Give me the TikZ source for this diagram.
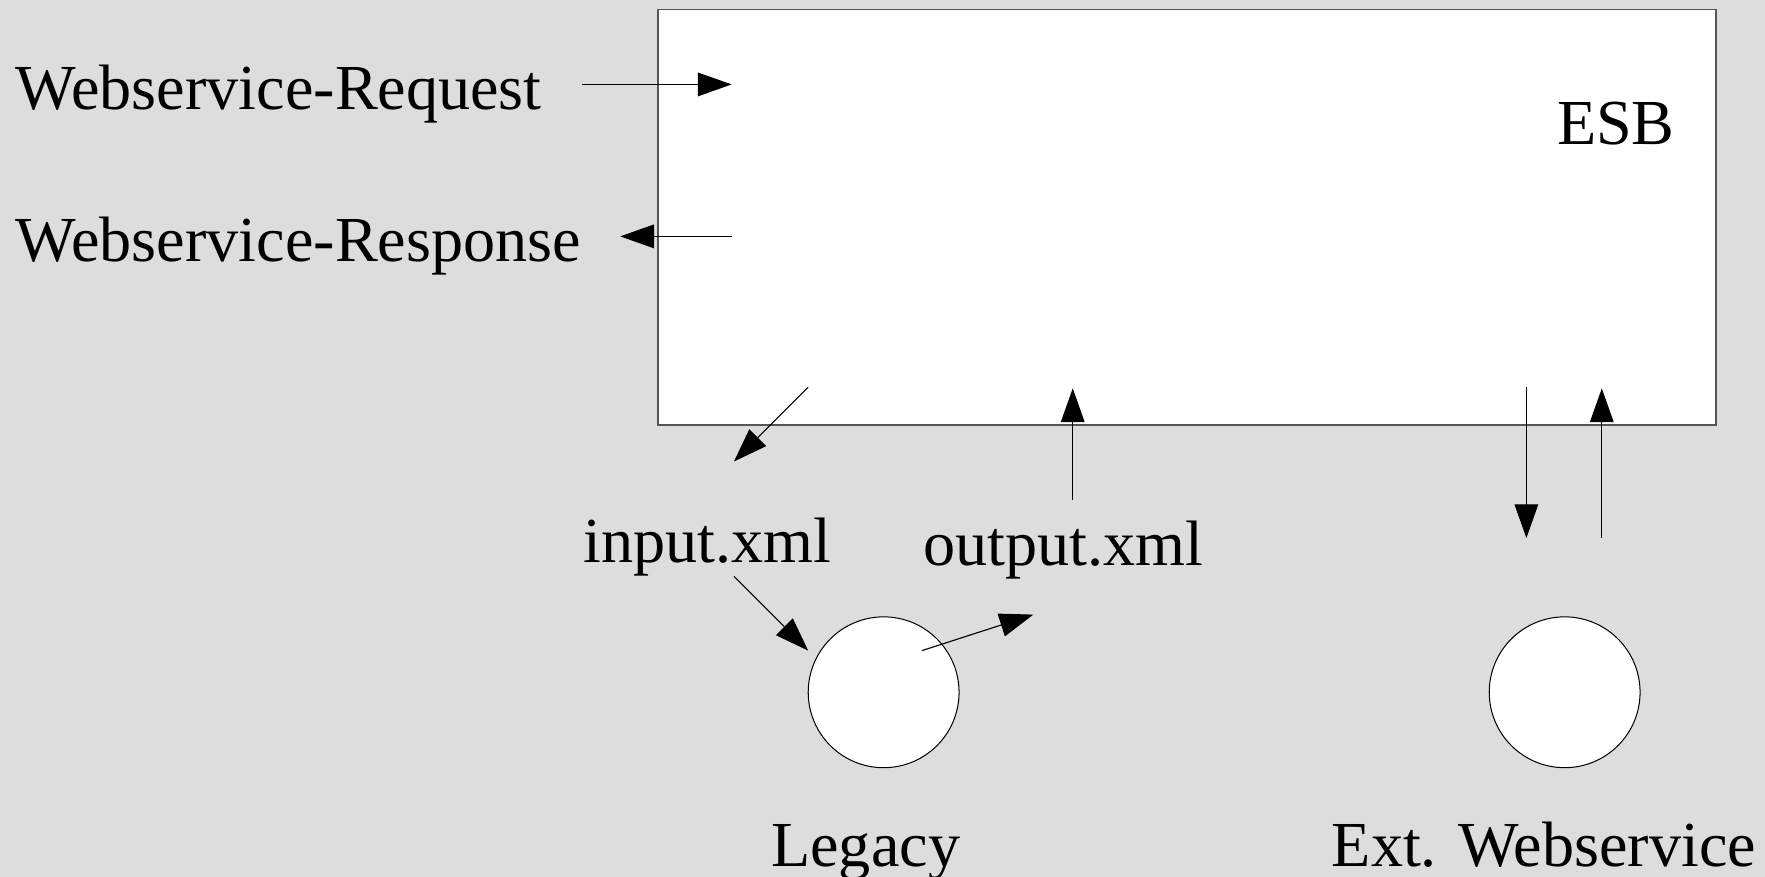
\documentclass[tikz,border=0pt]{standalone}
\usepackage{fontspec}
\setmainfont{Liberation Serif}
\usetikzlibrary{arrows.meta}
\definecolor{bgc}{HTML}{DDDDDD}
\definecolor{boxc}{HTML}{555555}
\tikzset{
  lbl/.style={font=\fontsize{57}{68}\selectfont, inner sep=0pt, text=black},
  conn/.style={draw=black, line width=1pt, -{Triangle[length=30pt,width=21pt]}},
  sysnode/.style={circle, draw=black, line width=0.9pt, fill=white, minimum size=134pt, inner sep=0pt}
}
\begin{document}
\begin{tikzpicture}[x=1pt,y=-1pt]
\fill[bgc] (0,0) rectangle (1568,779);
\useasboundingbox (0,0) rectangle (1568,779);
% ESB box
\node[draw=boxc, line width=1.2pt, fill=white, minimum width=940pt, minimum height=369pt, anchor=north west, inner sep=0pt] (esb) at (584,8) {};
\node[lbl, anchor=base east] (esblbl) at (1488,128) {ESB};
% labels
\node[lbl, anchor=base west] (req) at (14,97) {Webservice-Request};
\node[lbl, anchor=base west] (resp) at (14,232) {Webservice-Response};
\node[lbl, anchor=base west] (inxml) at (518,500) {input.xml};
\node[lbl, anchor=base west] (outxml) at (820,502) {output.xml};
\node[lbl, anchor=base west] (leglbl) at (685,770) {Legacy};
\node[lbl, anchor=base west] (extlbl) at (1183,770) {Ext. Webservice};
% circles
\node[sysnode] (legacy) at (785,615) {};
\node[sysnode] (ext) at (1390,615) {};
% connector end points
\coordinate (reqA) at (517,75);
\coordinate (reqB) at (650,75);
\coordinate (respA) at (650,210);
\coordinate (respB) at (551,210);
\coordinate (inA) at (718,344);
\coordinate (inB) at (652,410);
\coordinate (inC) at (652,512);
\coordinate (inD) at (718,578);
\coordinate (outA) at (819,578);
\coordinate (outB) at (918,546);
\coordinate (outC) at (953,444);
\coordinate (outD) at (953,345);
\coordinate (extA) at (1356,344);
\coordinate (extB) at (1356,478);
\coordinate (extC) at (1423,478);
\coordinate (extD) at (1423,345);
% connectors
\draw[conn] (reqA) -- (reqB);
\draw[conn] (respA) -- (respB);
\draw[conn] (inA) -- (inB);
\draw[conn] (inC) -- (inD);
\draw[conn] (outA) -- (outB);
\draw[conn] (outC) -- (outD);
\draw[conn] (extA) -- (extB);
\draw[conn] (extC) -- (extD);
\end{tikzpicture}
\end{document}
